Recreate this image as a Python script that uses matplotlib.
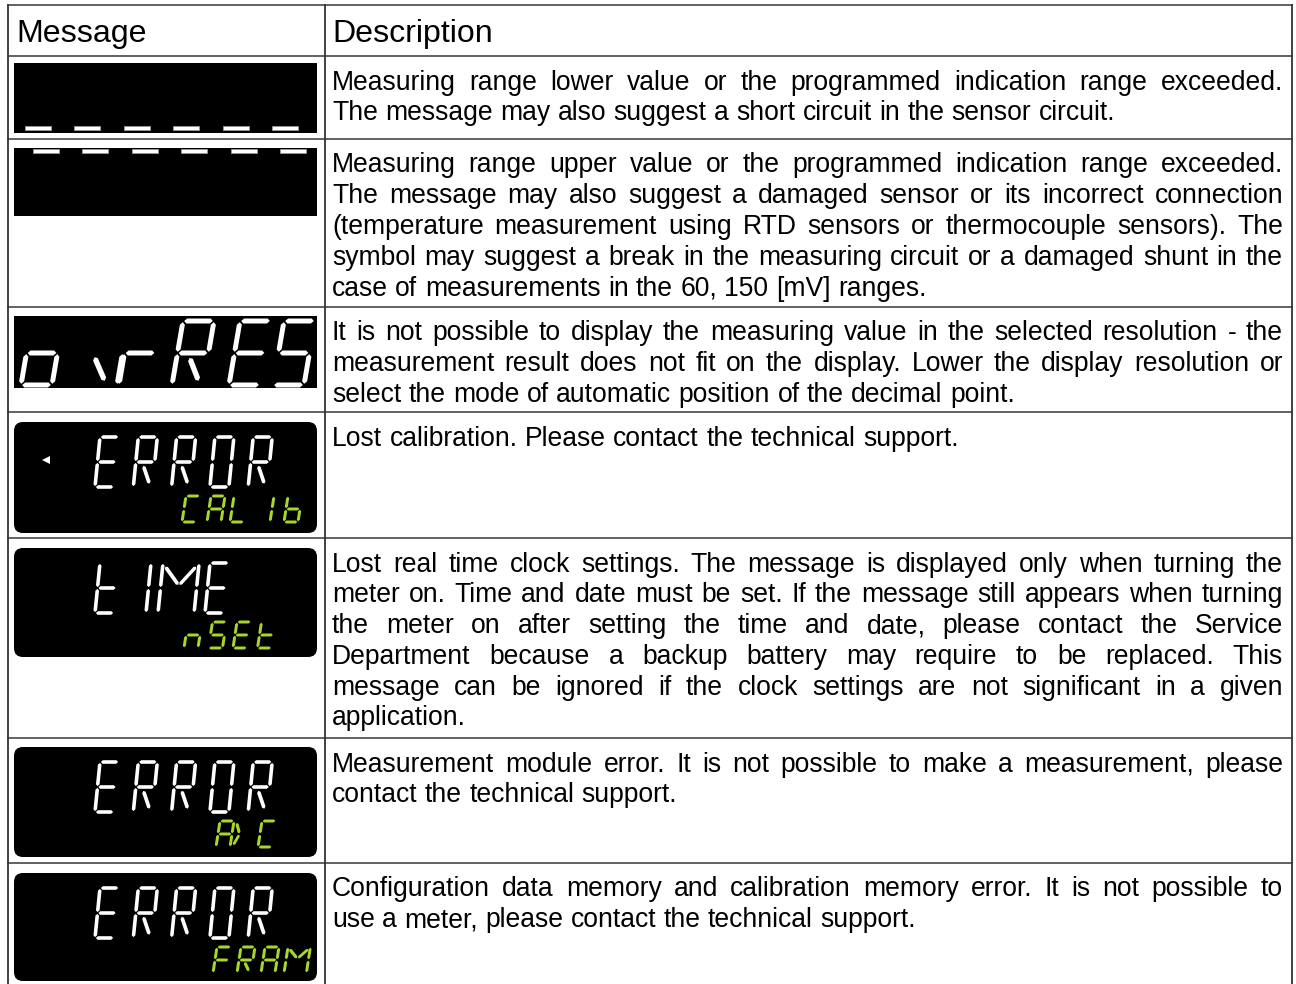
import numpy as np
import matplotlib
matplotlib.use("Agg")
import matplotlib.pyplot as plt
from matplotlib.patches import Polygon, Rectangle, FancyBboxPatch

FONT = "Liberation Sans"
FS_HEAD = 23.1
FS_BODY = 19.1

headers = ["Message", "Description"]

descriptions = [
    ["Measuring range lower value or the programmed indication range exceeded.",
     "The message may also suggest a short circuit in the sensor circuit."],
    ["Measuring range upper value or the programmed indication range exceeded.",
     "The message may also suggest a damaged sensor or its incorrect connection",
     "(temperature measurement using RTD sensors or thermocouple sensors). The",
     "symbol may suggest a break in the measuring circuit or a damaged shunt in the",
     "case of measurements in the 60, 150 [mV] ranges."],
    ["It is not possible to display the measuring value in the selected resolution - the",
     "measurement result does not fit on the display. Lower the display resolution or",
     "select the mode of automatic position of the decimal point."],
    ["Lost calibration. Please contact the technical support."],
    ["Lost real time clock settings. The message is displayed only when turning the",
     "meter on. Time and date must be set. If the message still appears when turning",
     "the meter on after setting the time and date, please contact the Service",
     "Department because a backup battery may require to be replaced. This",
     "message can be ignored if the clock settings are not significant in a given",
     "application."],
    ["Measurement module error. It is not possible to make a measurement, please",
     "contact the technical support."],
    ["Configuration data memory and calibration memory error. It is not possible to",
     "use a meter, please contact the technical support."],
]

# display contents (big white line, small green line)
big_text = ["ovrRES", "ERROR", "t IME", "ERROR", "ERROR"]
small_text = [None, "CAL 1b", "nSEt", "A> C", "FRAM"]

row_lines = [5, 56, 139, 307, 412, 538, 738, 863, 1000]
col_x = [8, 325, 1292]

WHITE = "#ffffff"
GREEN = "#a8d62a"

# segment endpoints in unit cell (u to the right, v up)
SEGS = {
    "a": ((0, 1), (1, 1)), "b": ((1, 1), (1, .5)), "c": ((1, .5), (1, 0)),
    "d": ((0, 0), (1, 0)), "e": ((0, 0), (0, .5)), "f": ((0, .5), (0, 1)),
    "g": ((0, .5), (1, .5)),
    "k": ((.4, .44), (.85, .05)),
    "m1": ((.06, .94), (.5, .55)), "m2": ((.5, .55), (.94, .94)),
    "v1": ((.1, .45), (.6, .05)),
    "t1": ((.1, .95), (.8, .5)), "t2": ((.8, .5), (.1, .05)),
}
CHARS = {
    "E": "a d e f g", "R": "a b e f g k", "O": "a b c d e f", "o": "c d e g",
    "v": "v1 c", "r": "e g", "S": "a f g c d", "C": "a d e f",
    "A": "a b c e f g", "L": "d e f", "1": "b c", "b": "f e d c g",
    "n": "e g c", "t": "f e d g", "I": "b c", "M": "e f b c m1 m2",
    "F": "a e f g", ">": "t1 t2", " ": "",
}


def draw_char(ax, ch, x0, yb, w, h, slant, t, gap, color):
    for name in CHARS[ch].split():
        (u1, v1), (u2, v2) = SEGS[name]
        p1 = np.array([u1 * w, v1 * h])
        p2 = np.array([u2 * w, v2 * h])
        d = p2 - p1
        d = d / np.hypot(*d)
        p1 = p1 + d * gap
        p2 = p2 - d * gap
        n = np.array([-d[1], d[0]])
        s = t / 2
        pts = [p1, p1 + d * s + n * s, p2 - d * s + n * s, p2,
               p2 - d * s - n * s, p1 + d * s - n * s]
        xy = [(x0 + p[0] + slant * p[1] / h, yb - p[1]) for p in pts]
        ax.add_patch(Polygon(xy, closed=True, fc=color, ec="none"))


def draw_string(ax, s, x0s, yb, w, h, slant, t, gap, color, widths=None):
    for i, ch in enumerate(s):
        ww = w * (widths[i] if widths else 1)
        draw_char(ax, ch, x0s[i], yb, ww, h, slant, t, gap, color)


fig = plt.figure(figsize=(12.96, 9.84), dpi=100)
ax = fig.add_axes([0, 0, 1, 1])
ax.set_xlim(0, 1296)
ax.set_ylim(984, 0)
ax.axis("off")

# table grid
for y in row_lines[:-1]:
    ax.plot([col_x[0], col_x[2]], [y, y], color="#555555", lw=1.3)
for x in col_x:
    ax.plot([x, x], [row_lines[0], row_lines[-1]], color="#333333", lw=1.3)

# header
ax.text(16, 42, headers[0], fontsize=FS_HEAD, family=FONT, va="baseline")
ax.text(332, 42, headers[1], fontsize=FS_HEAD, family=FONT, va="baseline")

# description text, justified
fig.canvas.draw()
renderer = fig.canvas.get_renderer()


def width_of(s):
    tt = ax.text(0, 0, s, fontsize=FS_BODY, family=FONT)
    wd = tt.get_window_extent(renderer).width
    tt.remove()
    return wd


space_w = width_of("x x") - width_of("xx")
X_L, X_R = 332, 1283
LINE_H = 30.8
for r, lines in enumerate(descriptions):
    yb = row_lines[r + 1] + 33.5
    for li, line in enumerate(lines):
        words = line.split(" ")
        objs = [ax.text(0, yb, wd, fontsize=FS_BODY, family=FONT, va="baseline")
                for wd in words]
        widths = [o.get_window_extent(renderer).width for o in objs]
        last = li == len(lines) - 1
        gap = space_w if last or len(words) == 1 else (X_R - X_L - sum(widths)) / (len(words) - 1)
        x = X_L
        for o, wd in zip(objs, widths):
            o.set_x(x)
            x += wd + gap
        yb += LINE_H

# row 1: dashes at bottom
ax.add_patch(Rectangle((14, 63), 303, 70, fc="black", ec="none"))
for i in range(6):
    ax.add_patch(Rectangle((25 + 49.4 * i, 125.5), 26, 4.5, fc=WHITE, ec="#999999", lw=0.6))

# row 2: dashes at top
ax.add_patch(Rectangle((14, 148), 303, 68, fc="black", ec="none"))
for i in range(6):
    ax.add_patch(Rectangle((33 + 49.4 * i, 148.5), 26, 4.5, fc=WHITE, ec="#999999", lw=0.6))

# row 3: ovrRES
ax.add_patch(Rectangle((14, 316), 303, 72, fc="black", ec="none"))
draw_string(ax, big_text[0], [21, 86, 119, 172, 229, 273], 385, 31, 64, 11, 5, 1.2, WHITE)

# rows 4-7: rounded LCD displays
disp_boxes = [(422, 111), (548, 109), (747, 110), (873, 108)]
big_x = [95 + 38.3 * i for i in range(5)]
small_x = [184 + 24.5 * i for i in range(5)]
for k, (y0, hh) in enumerate(disp_boxes):
    ax.add_patch(FancyBboxPatch((14, y0), 303, hh, boxstyle="round,pad=0,rounding_size=9",
                                fc="black", ec="none"))
    yb_big = y0 + 65
    yb_small = y0 + 100
    txt = big_text[k + 1]
    if txt == "t IME":
        draw_string(ax, txt, [95, 120, 127, 158, 205], yb_big, 19, 50, 5, 3.6, 0.9, WHITE,
                    widths=[1, 1, 1, 1.9, 1])
    else:
        draw_string(ax, txt, big_x, yb_big, 19, 50, 5, 3.6, 0.9, WHITE)
    st = small_text[k + 1]
    if st == "CAL 1b":
        xs = [182, 207, 230, 245, 256, 284]
        draw_string(ax, st, xs, yb_small, 14, 26, 4, 3, 0.7, GREEN)
    elif st == "A> C":
        xs = [216, 232, 244, 258]
        draw_string(ax, st, xs, yb_small, 14, 26, 4, 3, 0.7, GREEN, widths=[1, 0.5, 1, 1])
    elif st == "FRAM":
        xs = [213, 237, 261, 284]
        draw_string(ax, st, xs, yb_small, 14, 26, 4, 3, 0.7, GREEN, widths=[1, 1, 1, 1.6])
    else:
        draw_string(ax, st, small_x, yb_small, 14, 26, 4, 3, 0.7, GREEN)

# small arrow on the CAL display
ax.add_patch(Polygon([(42, 460), (50, 456), (50, 464)], closed=True, fc=WHITE, ec="none"))

fig.savefig("out.png", dpi=100)
